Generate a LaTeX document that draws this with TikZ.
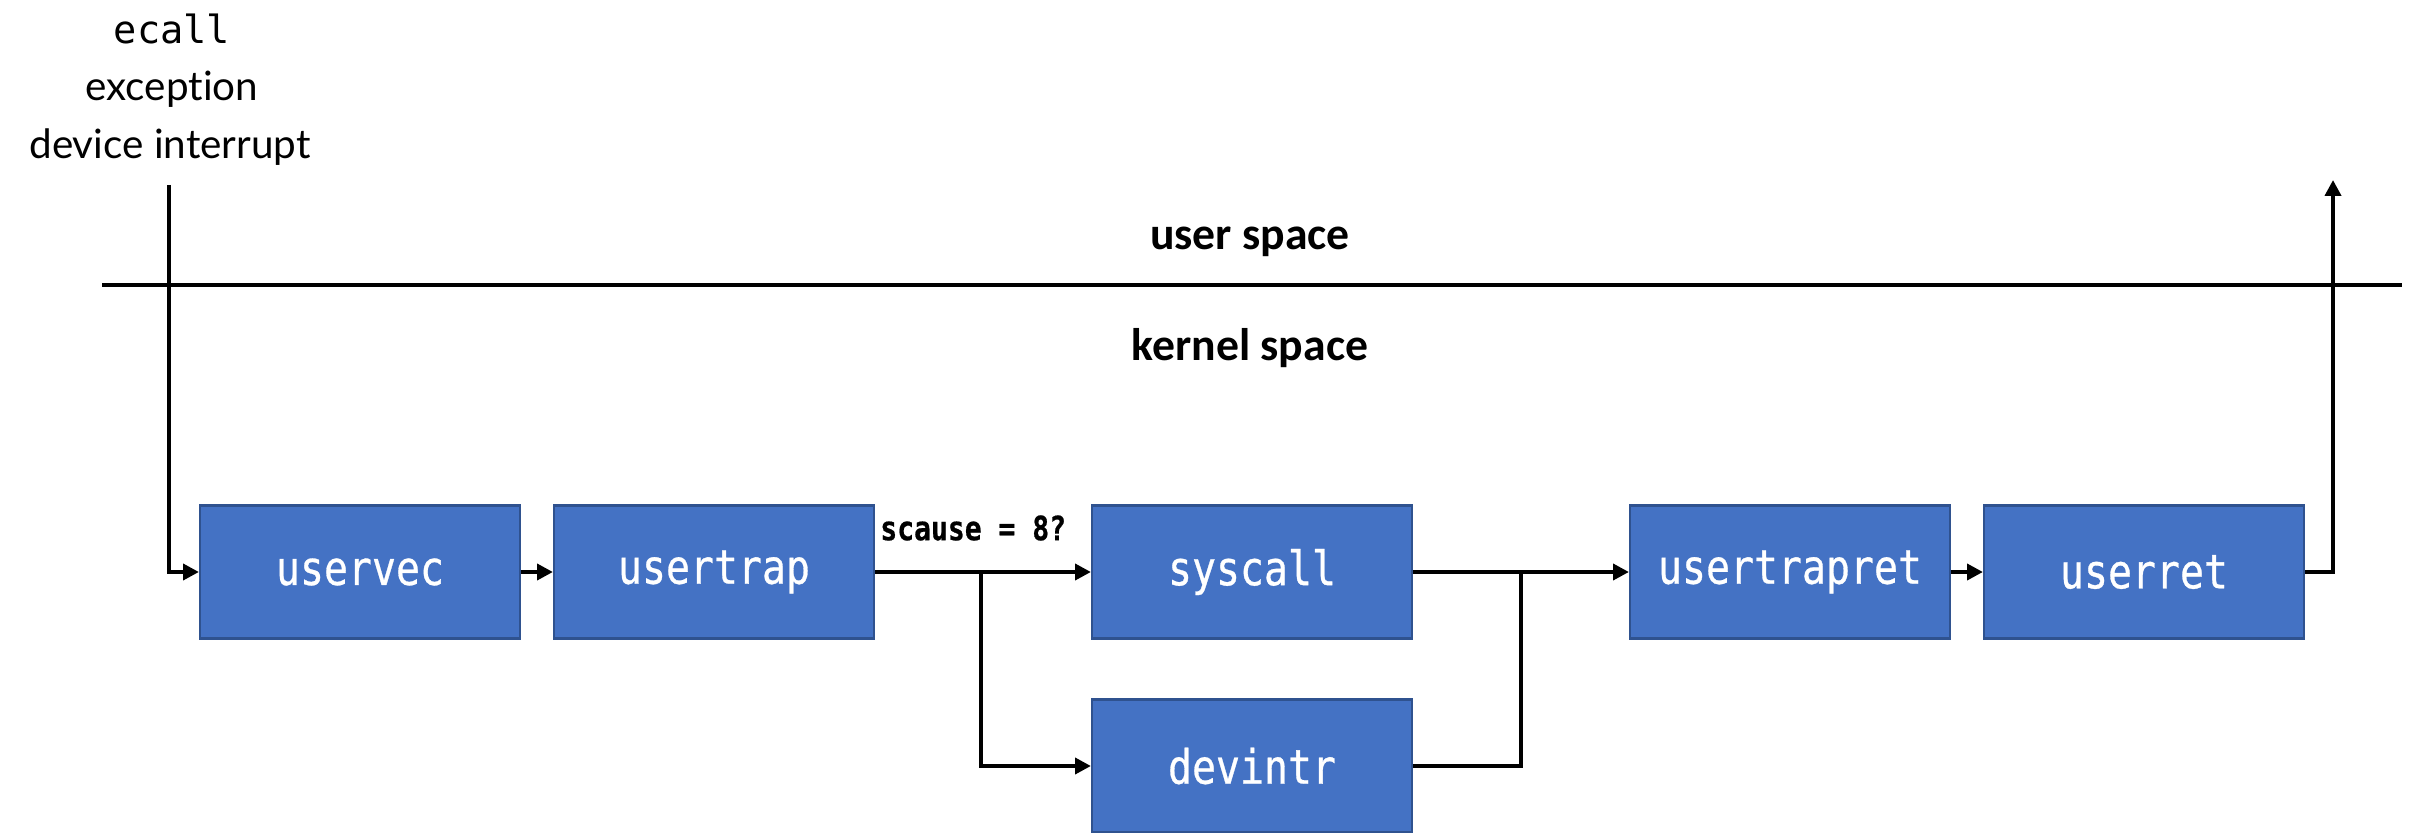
\documentclass[tikz,border=0pt]{standalone}
\usepackage{fontspec}
\usetikzlibrary{arrows.meta}
\newfontfamily\labelfont[Ligatures=NoCommon]{Lato}
\newfontfamily\spacefont{Carlito}
\newfontfamily\codefont[FakeStretch=0.84,FakeBold=0.6]{DejaVu Sans Mono}
\newfontfamily\ecallfont{DejaVu Sans Mono}
\definecolor{boxblue}{HTML}{4472C4}
\definecolor{boxedge}{HTML}{2F528F}
\begin{document}
\begin{tikzpicture}[
  func/.style={draw=boxedge, line width=1.2pt, fill=boxblue, text=white,
    minimum width=6.4cm, minimum height=2.66cm, inner sep=0pt,
    font=\codefont\fontsize{27}{30}\selectfont},
  wire/.style={line width=2.2pt},
  arr/.style={wire, -{Triangle[length=9pt,width=9pt]}}
]
\useasboundingbox (0,0) rectangle (48.28,-16.66);
% where the trap comes from
\node (ecall) at (3.44,-0.58) {\ecallfont\fontsize{22}{26}\selectfont ecall};
\node (exc) at (3.44,-1.78) {\labelfont\fontsize{23}{26}\selectfont exception};
\node (devirq) at (3.4,-2.94) {\labelfont\fontsize{23}{26}\selectfont device interrupt};
% user / kernel border
\draw[wire] (2.04,-5.7) -- (48.04,-5.7);
\node (user) at (25.0,-4.84) {\spacefont\bfseries\fontsize{26}{30}\selectfont user space};
\node (kernel) at (25.0,-6.96) {\spacefont\bfseries\fontsize{26}{30}\selectfont kernel space};
% the functions
\node[func] (uservec) at (7.2,-11.44) {uservec};
\node[func] (usertrap) at (14.28,-11.44) {usertrap};
\node[func] (syscall) at (25.04,-11.44) {syscall};
\node[func] (devintr) at (25.04,-15.32) {devintr};
\node[func] (usertrapret) at (35.8,-11.44) {usertrapret};
\node[func] (userret) at (42.88,-11.44) {userret};
\node[anchor=west, inner sep=0pt] (scause) at (17.6,-10.56)
  {\codefont\bfseries\fontsize{19}{22}\selectfont scause = 8?};
\coordinate (entry) at (3.38,-3.7);
\coordinate (exit) at (46.66,-3.6);
\coordinate (split) at (19.62,-11.44);
\coordinate (merge) at (30.42,-11.44);
% connectors
\draw[arr] (entry) |- (uservec.west);
\draw[arr] (uservec) -- (usertrap);
\draw[arr] (usertrap) -- (syscall);
\draw[arr] (split) |- (devintr.west);
\draw[arr] (syscall) -- (usertrapret);
\draw[wire] (devintr.east) -| (merge);
\draw[arr] (usertrapret) -- (userret);
\draw[arr] (userret.east) -| (exit);
\end{tikzpicture}
\end{document}
